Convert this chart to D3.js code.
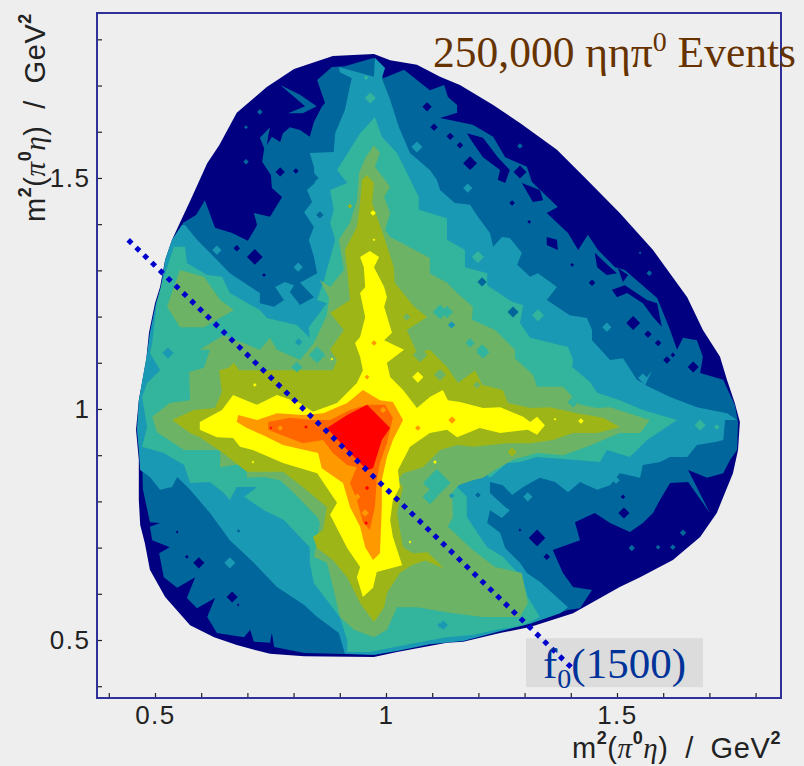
<!DOCTYPE html>
<html>
<head>
<meta charset="utf-8">
<script src="https://cdn.jsdelivr.net/npm/d3@7"></script>
<style>
html,body{margin:0;padding:0;background:#eeeeee;overflow:hidden;}
svg{display:block;}
</style>
</head>
<body>
<div id="chart"></div>
<script>
var width = 804, height = 766;
var frame = {left: 97, right: 781, top: 13, bottom: 698};

// axis readings, GeV^2
var xDomain = [0.3745, 1.855];
var yDomain = [0.3745, 1.857];
var tickValues = [0.4,0.5,0.6,0.7,0.8,0.9,1,1.1,1.2,1.3,1.4,1.5,1.6,1.7,1.8];
var labelledTicks = [0.5,1,1.5];

// contour colours, low to high
var levelColors = ["#000080","#00669c","#1a99b4","#33b49c","#6cb366","#9eb518","#ffff00","#ff9900","#ff6600","#ff0000"];

// contour boundaries, [m2 x, m2 y]
var boundary = [[.974,1.768],[.885,1.764],[.801,1.736],[.742,1.697],[.677,1.641],[.639,1.571],[.613,1.532],[.580,1.459],[.554,1.403],[.537,1.366],[.522,1.323],[.511,1.264],[.500,1.229],[.487,1.165],[.481,1.106],[.465,1.019],[.459,.955],[.465,.890],[.465,.803],[.468,.749],[.478,.710],[.489,.652],[.522,.593],[.576,.532],[.628,.506],[.677,.489],[.749,.470],[.823,.465],[.974,.463],[1.024,.474],[1.132,.494],[1.167,.496],[1.247,.515],[1.312,.528],[1.405,.558],[1.506,.615],[1.550,.636],[1.621,.673],[1.680,.723],[1.716,.775],[1.751,.861],[1.762,.911],[1.766,.972],[1.755,1.013],[1.738,1.063],[1.723,1.113],[1.686,1.171],[1.652,1.242],[1.578,1.344],[1.506,1.424],[1.435,1.496],[1.370,1.561],[1.290,1.619],[1.232,1.658],[1.160,1.701],[1.117,1.719],[1.067,1.745],[1.009,1.755]];

var level1 = [[.974,1.760],[.911,1.742],[.883,1.740],[.851,1.712],[.868,1.662],[.861,1.654],[.844,1.621],[.835,1.589],[.814,1.604],[.792,1.610],[.777,1.597],[.771,1.578],[.753,1.589],[.736,1.561],[.732,1.535],[.751,1.506],[.753,1.478],[.775,1.459],[.749,1.416],[.714,1.424],[.721,1.398],[.701,1.364],[.667,1.381],[.630,1.392],[.608,1.452],[.589,1.420],[.561,1.403],[.543,1.366],[.528,1.323],[.517,1.264],[.506,1.229],[.494,1.165],[.487,1.106],[.472,1.019],[.465,.955],[.472,.890],[.474,.825],[.489,.755],[.511,.753],[.489,.745],[.494,.716],[.532,.701],[.509,.688],[.519,.636],[.548,.613],[.587,.636],[.569,.591],[.591,.569],[.630,.591],[.613,.550],[.634,.515],[.693,.506],[.706,.522],[.714,.496],[.749,.494],[.753,.515],[.758,.485],[.823,.472],[.974,.468],[1.024,.478],[1.095,.494],[1.167,.500],[1.247,.522],[1.312,.537],[1.394,.565],[1.420,.569],[1.446,.608],[1.405,.615],[1.383,.645],[1.361,.695],[1.420,.716],[1.409,.755],[1.452,.775],[1.485,.753],[1.528,.734],[1.556,.753],[1.578,.775],[1.593,.803],[1.615,.840],[1.654,.842],[1.701,.775],[1.654,.868],[1.695,.851],[1.730,.861],[1.745,.890],[1.760,.911],[1.762,.972],[1.755,1.009],[1.740,1.041],[1.730,1.063],[1.680,1.078],[1.686,1.113],[1.673,1.149],[1.643,1.154],[1.630,1.128],[1.615,1.171],[1.587,1.240],[1.517,1.301],[1.496,1.307],[1.459,1.344],[1.437,1.377],[1.416,1.344],[1.394,1.381],[1.348,1.424],[1.372,1.437],[1.316,1.491],[1.305,1.524],[1.258,1.545],[1.232,1.589],[1.188,1.615],[1.117,1.630],[1.154,1.641],[1.154,1.658],[1.134,1.675],[1.126,1.701],[1.095,1.690],[1.067,1.712],[1.039,1.734],[.994,1.716]];

// low pockets left inside level 1 on the upper right
var pocketA = [[1.175,1.597],[1.210,1.587],[1.242,1.545],[1.268,1.517],[1.258,1.489],[1.242,1.496],[1.247,1.517],[1.210,1.545],[1.188,1.576]];
var pocketB = [[1.294,1.489],[1.333,1.474],[1.340,1.452],[1.318,1.448]];
var pocketC = [[1.452,1.338],[1.485,1.307],[1.500,1.294],[1.478,1.290],[1.457,1.307]];
var pocketD = [[1.502,1.305],[1.524,1.290],[1.513,1.275]];
var pocketE = [[1.489,1.258],[1.517,1.268],[1.565,1.236],[1.587,1.229],[1.597,1.178],[1.578,1.199],[1.556,1.229],[1.522,1.251],[1.500,1.242]];
var pocketF = [[1.348,1.372],[1.370,1.366],[1.372,1.344],[1.348,1.355]];
// thin level 1 ridges inside the low region
var ridgeA = [[.771,1.701],[.814,1.680],[.850,1.655],[.820,1.640],[.788,1.640],[.825,1.655]];
var ridgeB = [[.749,1.610],[.727,1.587],[.740,1.555],[.745,1.590]];

var level2 = [[.976,1.760],[.998,1.738],[.991,1.716],[1.009,1.669],[1.028,1.610],[1.052,1.554],[1.095,1.517],[1.110,1.496],[1.117,1.474],[1.149,1.446],[1.182,1.442],[1.199,1.416],[1.225,1.381],[1.232,1.351],[1.251,1.372],[1.268,1.370],[1.294,1.338],[1.284,1.312],[1.312,1.286],[1.329,1.294],[1.370,1.264],[1.348,1.236],[1.398,1.203],[1.435,1.197],[1.446,1.171],[1.446,1.149],[1.485,1.106],[1.513,1.110],[1.543,1.063],[1.556,1.056],[1.576,1.084],[1.561,1.052],[1.615,1.026],[1.673,1.004],[1.738,.991],[1.760,.976],[1.734,.976],[1.730,.933],[1.716,.929],[1.673,.922],[1.652,.896],[1.615,.896],[1.593,.885],[1.556,.879],[1.550,.851],[1.506,.861],[1.485,.835],[1.457,.825],[1.420,.842],[1.394,.820],[1.366,.842],[1.333,.851],[1.297,.831],[1.273,.814],[1.253,.835],[1.225,.842],[1.225,.818],[1.258,.788],[1.268,.781],[1.251,.764],[1.225,.781],[1.219,.753],[1.247,.732],[1.258,.699],[1.290,.667],[1.305,.645],[1.333,.626],[1.394,.571],[1.377,.558],[1.312,.535],[1.247,.519],[1.167,.498],[1.095,.491],[1.024,.476],[.974,.468],[.911,.470],[.898,.515],[.866,.539],[.851,.550],[.823,.576],[.764,.615],[.714,.667],[.662,.716],[.619,.775],[.576,.825],[.548,.853],[.537,.831],[.511,.825],[.489,.853],[.468,.868],[.465,.911],[.461,.955],[.465,1.019],[.483,1.121],[.489,1.165],[.502,1.229],[.513,1.264],[.522,1.323],[.537,1.366],[.558,1.398],[.565,1.398],[.591,1.366],[.628,1.329],[.662,1.294],[.727,1.251],[.727,1.229],[.758,1.221],[.779,1.236],[.760,1.264],[.781,1.275],[.801,1.268],[.792,1.253],[.814,1.225],[.844,1.242],[.814,1.273],[.851,1.294],[.844,1.329],[.833,1.366],[.844,1.394],[.823,1.426],[.840,1.448],[.829,1.474],[.846,1.489],[.844,1.524],[.835,1.554],[.887,1.556],[.890,1.597],[.911,1.647],[.920,1.690],[.926,1.716],[.900,1.729],[.898,1.740],[.974,1.719]];

var level3 = [[.976,1.632],[.991,1.589],[1.024,1.554],[1.045,1.511],[1.071,1.459],[1.071,1.431],[1.132,1.413],[1.132,1.366],[1.171,1.344],[1.171,1.307],[1.219,1.294],[1.219,1.268],[1.273,1.232],[1.297,1.225],[1.290,1.186],[1.312,1.154],[1.394,1.134],[1.405,1.106],[1.403,1.091],[1.442,1.058],[1.457,1.035],[1.506,1.019],[1.556,.998],[1.630,.976],[1.565,.933],[1.528,.896],[1.478,.911],[1.463,.885],[1.405,.890],[1.327,.896],[1.290,.885],[1.262,.883],[1.225,.851],[1.203,.874],[1.154,.831],[1.175,.810],[1.175,.766],[1.219,.701],[1.253,.680],[1.294,.636],[1.307,.593],[1.333,.550],[1.297,.532],[1.240,.522],[1.188,.511],[1.132,.506],[1.067,.494],[.965,.474],[.916,.474],[.916,.500],[.900,.550],[.844,.623],[.835,.667],[.835,.701],[.779,.760],[.736,.781],[.693,.810],[.721,.831],[.677,.831],[.662,.803],[.649,.818],[.619,.842],[.576,.840],[.563,.879],[.519,.905],[.472,.918],[.483,.961],[.472,1.026],[.483,1.056],[.511,1.084],[.489,1.121],[.494,1.143],[.504,1.229],[.515,1.273],[.541,1.351],[.565,1.351],[.569,1.316],[.613,1.290],[.645,1.286],[.662,1.251],[.727,1.214],[.742,1.197],[.807,1.182],[.835,1.154],[.833,1.177],[.872,1.229],[.851,1.236],[.866,1.279],[.890,1.366],[.879,1.403],[.887,1.431],[.879,1.474],[.916,1.489],[.894,1.517],[.944,1.597]];

var level4 = [[.974,1.571],[.987,1.554],[.976,1.524],[1.009,1.481],[.996,1.459],[1.009,1.424],[.998,1.387],[1.009,1.372],[1.095,1.327],[1.095,1.294],[1.132,1.273],[1.154,1.251],[1.188,1.221],[1.186,1.193],[1.236,1.171],[1.279,1.128],[1.279,1.110],[1.318,1.074],[1.327,1.048],[1.383,1.048],[1.420,1.009],[1.457,1.002],[1.485,1.004],[1.571,.976],[1.550,.948],[1.506,.948],[1.470,.933],[1.435,.918],[1.383,.900],[1.327,.905],[1.275,.890],[1.236,.868],[1.210,.851],[1.188,.846],[1.156,.835],[1.143,.818],[1.145,.766],[1.134,.745],[1.188,.695],[1.236,.658],[1.294,.645],[1.307,.580],[1.290,.550],[1.210,.550],[1.145,.558],[1.067,.571],[1.024,.571],[1.002,.522],[.974,.506],[.931,.522],[.900,.550],[.887,.608],[.872,.667],[.844,.680],[.851,.716],[.857,.753],[.851,.766],[.801,.818],[.771,.846],[.736,.853],[.699,.851],[.699,.883],[.641,.874],[.641,.911],[.563,.911],[.504,.950],[.494,.983],[.532,1.013],[.576,1.019],[.574,1.080],[.606,1.089],[.619,1.128],[.597,1.128],[.649,1.160],[.727,1.128],[.749,1.154],[.764,1.128],[.814,1.106],[.844,1.143],[.872,1.203],[.877,1.240],[.857,1.279],[.879,1.264],[.909,1.301],[.898,1.366],[.922,1.403],[.937,1.452],[.942,1.511],[.955,1.543]];
var level4Patch = [[.554,1.301],[.606,1.286],[.641,1.236],[.671,1.214],[.606,1.177],[.554,1.177],[.526,1.221]];

var level5 = [[.959,1.506],[.974,1.489],[.970,1.446],[.996,1.372],[1.017,1.307],[1.019,1.273],[1.061,1.221],[1.089,1.199],[1.045,1.171],[1.067,1.121],[1.095,1.128],[1.132,1.091],[1.156,1.056],[1.193,1.084],[1.208,1.052],[1.253,1.041],[1.264,1.013],[1.312,1.002],[1.355,1.004],[1.413,.991],[1.470,.981],[1.506,.961],[1.457,.948],[1.405,.948],[1.361,.933],[1.312,.926],[1.262,.926],[1.188,.918],[1.154,.922],[1.117,.911],[1.080,.874],[1.037,.861],[1.026,.846],[1.037,.831],[1.030,.803],[1.024,.775],[1.030,.738],[1.037,.701],[1.058,.688],[1.090,.690],[1.126,.655],[1.085,.672],[1.055,.662],[1.030,.645],[1.002,.602],[.996,.571],[.974,.539],[.944,.580],[.916,.636],[.885,.673],[.851,.699],[.842,.723],[.864,.738],[.872,.788],[.820,.831],[.777,.864],[.699,.864],[.647,.905],[.597,.939],[.576,.948],[.537,.976],[.584,.998],[.630,1.002],[.645,1.037],[.639,1.084],[.660,1.089],[.671,1.100],[.682,1.084],[.792,1.084],[.885,1.084],[.894,1.106],[.879,1.128],[.909,1.171],[.879,1.208],[.922,1.236],[.916,1.301],[.911,1.344],[.937,1.394],[.944,1.446],[.948,1.496]];

var level6 = [[.965,1.342],[.985,1.329],[.974,1.307],[.996,1.264],[1.002,1.242],[.996,1.221],[1.013,1.165],[.996,1.149],[1.039,1.128],[1.002,1.100],[1.009,1.069],[1.037,1.041],[1.067,1.002],[1.095,1.026],[1.123,1.041],[1.134,1.019],[1.160,1.015],[1.210,1.002],[1.247,1.004],[1.297,.983],[1.312,.972],[1.327,.983],[1.344,.965],[1.327,.944],[1.307,.955],[1.247,.948],[1.203,.959],[1.154,.939],[1.132,.955],[1.095,.948],[1.052,.918],[1.026,.868],[1.030,.831],[1.015,.803],[1.009,.760],[1.015,.723],[1.035,.662],[.980,.647],[.972,.613],[.950,.593],[.937,.636],[.944,.658],[.916,.699],[.879,.771],[.894,.797],[.851,.861],[.777,.883],[.712,.911],[.684,.918],[.669,.937],[.634,.939],[.597,.955],[.597,.972],[.645,.998],[.669,1.030],[.721,1.009],[.764,1.030],[.814,1.013],[.842,.994],[.894,1.013],[.937,1.056],[.950,1.084],[.944,1.113],[.933,1.143],[.944,1.156],[.955,1.199],[.944,1.251],[.955,1.264],[.952,1.307],[.944,1.329]];

var level7 = [[.950,1.041],[.987,1.019],[1.015,1.015],[1.037,.976],[1.015,.933],[1.002,.896],[.991,.846],[.991,.788],[.987,.688],[.972,.673],[.955,.701],[.944,.745],[.922,.788],[.907,.840],[.861,.872],[.853,.905],[.777,.922],[.732,.944],[.699,.959],[.677,.972],[.680,.987],[.721,.976],[.764,.991],[.820,.987],[.864,.991],[.916,1.013]];

var level8 = [[.959,1.009],[.998,1.009],[1.015,.981],[1.002,.926],[.987,.883],[.980,.846],[.976,.788],[.965,.738],[.950,.755],[.937,.803],[.922,.840],[.937,.874],[.916,.879],[.885,.905],[.864,.933],[.820,.926],[.786,.939],[.745,.955],[.745,.972],[.792,.981],[.842,.976],[.879,.976],[.922,.998]];

var level9 = [[.959,1.009],[1.009,.959],[.991,.933],[.972,.872],[.959,.868],[.916,.911],[.872,.959],[.916,.987]];

// single-bin fluctuations: [m2 x, m2 y, half width]
var spots0 = [[1.182,1.532,.015],[1.535,1.186,.015],[1.567,1.162,.008],[1.589,1.143,.007],[1.290,1.513,.014],[1.139,1.590,.008],[1.160,1.571,.007],[1.273,1.446,.006],[1.310,1.405,.004],[1.403,1.312,.004],[1.446,1.273,.007],[1.104,1.610,.008],[1.089,1.654,.010],[.771,1.513,.010],[.805,1.515,.006],[.677,1.348,.007],[.716,1.329,.017],[.736,1.290,.004],[.595,.667,.012],[.667,.593,.012],[.548,.734,.003],[.569,.680,.004],[.680,.576,.003],[1.327,.721,.018],[1.348,.680,.007],[1.515,.775,.012],[1.513,.810,.005],[1.290,.738,.003],[1.608,1.106,.008],[1.665,1.091,.012],[1.621,1.117,.005]];
var spots1 = [[1.532,.699,.007],[1.589,.701,.005],[1.621,.701,.006],[1.643,.732,.007],[.697,1.610,.004],[.697,1.535,.006],[.727,1.643,.006],[1.550,1.338,.003],[1.570,1.294,.006],[1.290,1.569,.006],[1.208,1.275,.010],[1.275,1.210,.012],[.844,1.500,.010],[.857,1.420,.008],[1.199,.814,.006],[.681,.736,.004]];
var spots2 = [[1.177,1.478,.010],[1.478,1.177,.010],[1.067,1.567,.012],[.634,1.344,.010],[.810,1.307,.010],[.662,.667,.012],[1.307,.810,.010],[1.420,.861,.008],[1.498,.846,.008],[1.556,1.067,.010],[.811,1.145,.008],[.528,1.121,.012],[1.124,.532,.010],[1.142,.812,.006],[.530,.864,.006],[.749,.753,.006],[.727,.775,.006],[.771,.732,.006],[1.117,.532,.006],[1.142,1.182,.008]];
var spots3 = [[1.199,1.329,.013],[1.329,1.203,.013],[.966,1.673,.012],[.957,1.717,.005],[1.680,.965,.012],[1.716,.961,.006],[1.013,1.405,.010],[1.132,1.210,.013],[1.182,1.143,.010],[1.208,1.128,.012],[1.117,1.210,.016],[.851,1.117,.018],[.807,1.091,.012],[1.210,1.123,.014],[1.110,.840,.030],[1.095,.810,.016],[1.405,1.015,.012]];
var spots4 = [[1.074,1.117,.016],[1.117,1.074,.013],[1.197,1.052,.008],[1.045,1.199,.008]];
var spots5 = [[1.273,.907,.010],[.922,1.439,.005]];
var spots6 = [[.972,1.424,.006],[.974,1.366,.003],[1.069,1.069,.012],[.716,1.052,.004],[.883,1.108,.003],[1.106,.885,.004],[1.052,.712,.003],[1.422,.974,.006],[1.366,.978,.003],[.712,.885,.003]];
var spots7 = [[.974,1.143,.006],[1.143,.976,.008],[1.069,.959,.006],[.959,1.069,.005],[.994,.998,.007],[.771,.959,.006],[.955,.775,.008],[.938,.810,.007]];
var spots9 = [[.751,.959,.003],[.827,.961,.004],[.959,.829,.005],[.957,.753,.004]];

// f0(1500) band
var bandLine = [[.442,1.366],[1.405,.437]];
var labelBox = [[1.303,.504],[1.686,.398]];

var layers = [
    [0,boundary],[1,level1],
    [0,pocketA],[0,pocketB],[0,pocketC],[0,pocketD],[0,pocketE],[0,pocketF],
    [1,ridgeA],[1,ridgeB],
    [2,level2],[3,level3],[4,level4],[4,level4Patch],[5,level5],[6,level6],[7,level7],[8,level8],[9,level9]
];
var spotLayers = [[0,spots0],[1,spots1],[2,spots2],[3,spots3],[4,spots4],[5,spots5],[6,spots6],[7,spots7],[9,spots9]];

var svg = d3.select("#chart").append("svg")
    .attr("width", width)
    .attr("height", height);

var x = d3.scaleLinear().domain(xDomain).range([frame.left, frame.right]);
var y = d3.scaleLinear().domain(yDomain).range([frame.bottom, frame.top]);

var area = d3.line()
    .x(function(d){ return x(d[0]); })
    .y(function(d){ return y(d[1]); })
    .curve(d3.curveLinearClosed);

var plot = svg.append("g");

layers.forEach(function(l){
    plot.append("path")
        .attr("d", area(l[1]))
        .attr("fill", levelColors[l[0]]);
});

spotLayers.forEach(function(l){
    plot.selectAll(null)
        .data(l[1])
        .enter().append("path")
        .attr("d", function(d){
            return area([[d[0]-d[2],d[1]],[d[0],d[1]+d[2]],[d[0]+d[2],d[1]],[d[0],d[1]-d[2]]]);
        })
        .attr("fill", levelColors[l[0]]);
});

// axes, ticks point into the frame
var fontAxis = "'Liberation Sans', Arial, sans-serif";
function tickLabel(d){ return labelledTicks.indexOf(d) >= 0 ? d3.format("")(d) : ""; }

var xAxis = svg.append("g")
    .attr("transform", "translate(0," + frame.bottom + ")")
    .call(d3.axisBottom(x).tickValues(tickValues).tickSizeInner(-5).tickSizeOuter(0).tickPadding(7.5).tickFormat(tickLabel));
var yAxis = svg.append("g")
    .attr("transform", "translate(" + frame.left + ",0)")
    .call(d3.axisLeft(y).tickValues(tickValues).tickSizeInner(-5).tickSizeOuter(0).tickPadding(6.5).tickFormat(tickLabel));

[xAxis, yAxis].forEach(function(a){
    a.select(".domain").remove();
    a.selectAll("line").attr("stroke", "#222").attr("stroke-width", 1.2);
    a.selectAll("text")
        .attr("fill", "#222")
        .style("font-family", fontAxis)
        .style("font-size", "26px")
        .style("letter-spacing", "1.5px");
});

svg.append("rect")
    .attr("x", frame.left)
    .attr("y", frame.top)
    .attr("width", frame.right - frame.left)
    .attr("height", frame.bottom - frame.top)
    .attr("fill", "none")
    .attr("stroke", "#30309a")
    .attr("stroke-width", 2);

// axis titles
function axisTitle(t){
    t.attr("fill", "#222")
        .style("font-family", fontAxis)
        .style("font-size", "29px")
        .style("letter-spacing", "0.6px")
        .style("word-spacing", "8px");
    var parts = [["m",0],["2",1],["(",0],["\u03c0",2],["0",1],["\u03b7",2],[") / GeV",0],["2",1]];
    var up = 0;
    parts.forEach(function(p){
        var sp = t.append("tspan").text(p[0]);
        var shift = p[1] == 1 ? -14 : 0;
        sp.attr("dy", shift - up);
        up = shift;
        if(p[1] == 1) sp.style("font-size", "18px").style("font-weight", "bold");
        if(p[1] == 2) sp.style("font-family", "'Liberation Serif', serif").style("font-style", "italic");
    });
}
svg.append("text")
    .attr("x", 781)
    .attr("y", 758)
    .attr("text-anchor", "end")
    .call(axisTitle);
svg.append("text")
    .attr("transform", "translate(45,13) rotate(-90)")
    .attr("text-anchor", "end")
    .call(axisTitle);

// f0(1500) label box, dotted band on top of it, text last
svg.append("rect")
    .attr("x", x(labelBox[0][0]))
    .attr("y", y(labelBox[0][1]))
    .attr("width", x(labelBox[1][0]) - x(labelBox[0][0]))
    .attr("height", y(labelBox[1][1]) - y(labelBox[0][1]))
    .attr("fill", "#dcdcdc");

svg.append("line")
    .attr("x1", x(bandLine[0][0]))
    .attr("y1", y(bandLine[0][1]))
    .attr("x2", x(bandLine[1][0]))
    .attr("y2", y(bandLine[1][1]))
    .attr("stroke", "#0000cc")
    .attr("stroke-width", 5)
    .attr("stroke-dasharray", "5,5.9");

var serif = "'Liberation Serif', 'Times New Roman', serif";
var f0 = svg.append("text")
    .attr("x", 543)
    .attr("y", 678)
    .attr("fill", "#003399")
    .style("font-family", serif)
    .style("font-size", "43px");
f0.append("tspan").text("f");
f0.append("tspan").attr("dy", 10).style("font-size", "28px").text("0");
f0.append("tspan").attr("dy", -10).text("(1500)");

var title = svg.append("text")
    .attr("x", 433)
    .attr("y", 67)
    .attr("fill", "#663300")
    .style("font-family", serif)
    .style("font-size", "43.5px");
title.append("tspan").text("250,000 \u03b7\u03b7\u03c0");
title.append("tspan").attr("dy", -16).style("font-size", "28px").text("0");
title.append("tspan").attr("dy", 16).text(" Events");
</script>
</body>
</html>
